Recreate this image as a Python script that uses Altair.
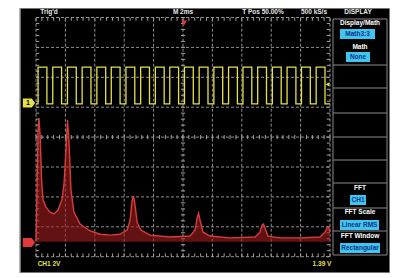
import altair as alt
import pandas as pd
import numpy as np

# ---- screen geometry (pixel readings -> graticule divisions) ----
X0, XDIV = 36.0, 29.4
Y0, YDIV = 137.1, 29.9
def dx(px): return (px - X0) / XDIV
def dy(py): return (Y0 - py) / YDIV

XDOM = [dx(20), dx(390)]
YDOM = [dy(273), dy(8)]

# ---- CH1 square wave (divisions) ----
ch1_low = 1.11
ch1_high = 2.34
ch1_rise = [0.07, 0.57, 1.07, 1.57, 2.07, 2.56, 3.06, 3.56, 4.06, 4.55,
            5.05, 5.55, 6.05, 6.55, 7.04, 7.54, 8.04, 8.54, 9.03, 9.53]
ch1_fall = [0.37, 0.87, 1.37, 1.87, 2.37, 2.86, 3.36, 3.86, 4.36, 4.85,
            5.35, 5.85, 6.35, 6.85, 7.34, 7.84, 8.34, 8.84, 9.33, 9.83]

# ---- FFT trace (divisions) ----
fft_x = [0.00, 0.03, 0.07, 0.10, 0.14, 0.19, 0.24, 0.34, 0.48, 0.61, 0.75, 0.88, 0.95,
         1.02, 1.07, 1.12, 1.19, 1.29, 1.50, 1.84, 2.18, 2.52, 2.86, 3.10, 3.20, 3.27,
         3.32, 3.37, 3.44, 3.57, 3.88, 4.56, 5.24, 5.41, 5.48, 5.53, 5.58, 5.68, 5.92,
         6.60, 7.45, 7.62, 7.69, 7.74, 7.79, 7.89, 8.30, 8.98, 9.66, 9.83, 9.90, 9.95, 10.0]
fft_y = [-3.47, -2.10, 0.24, 0.64, 0.07, -1.43, -2.10, -2.34, -2.51, -2.57, -2.44, -2.10, -1.60,
         -0.43, 0.57, -0.10, -1.77, -2.51, -2.91, -3.14, -3.25, -3.28, -3.25, -3.11, -2.78, -2.11,
         -1.97, -2.28, -2.85, -3.11, -3.28, -3.34, -3.31, -3.11, -2.71, -2.55, -2.78, -3.18, -3.31,
         -3.37, -3.34, -3.18, -2.94, -2.91, -3.05, -3.31, -3.37, -3.37, -3.34, -3.18, -3.05, -3.01, -3.18]
fft_floor = -3.50

# ---- texts ----
top_labels = ["Trig'd", "M 2ms", "T Pos 50.00%", "500 kS/s", "DISPLAY"]
top_label_px = [49, 183, 263, 314, 358]
menu_labels = ["Display/Math", "Math", "FFT", "FFT Scale", "FFT Window"]
menu_label_py = [23, 47, 188, 212, 236]
btn_labels = ["Math3:3", "None", "CH1", "Linear RMS", "Rectangular"]
btn_py = [34, 57, 200, 225, 248]
btn_left = [340, 346, 350, 340, 340]
btn_right = [375, 370, 366, 379, 380]
menu_lines_py = [19, 65, 88, 113, 137, 160, 183, 208, 231, 255]

XS = alt.Scale(domain=XDOM, nice=False, zero=False)
YS = alt.Scale(domain=YDOM, nice=False, zero=False)
def X(f="x"): return alt.X(f"{f}:Q", scale=XS, axis=None)
def Y(f="y"): return alt.Y(f"{f}:Q", scale=YS, axis=None)

# graticule dashed lines
segs = []
for d in range(11):
    segs.append(dict(x=d, x2=d, y=-4, y2=4))
for v in range(-4, 5):
    segs.append(dict(x=0, x2=10, y=v, y2=v))
grid = alt.Chart(pd.DataFrame(segs)).mark_rule(color="#8f8f8f", strokeDash=[3, 2], strokeWidth=1).encode(
    x=X(), x2="x2:Q", y=Y(), y2="y2:Q")

# tick marks
tk = []
tl = 0.11
for d in np.round(np.arange(0, 10.001, 0.2), 2):
    tk.append(dict(x=d, x2=d, y=4, y2=4 - tl))
    tk.append(dict(x=d, x2=d, y=-4, y2=-4 + tl))
    tk.append(dict(x=d, x2=d, y=-0.07, y2=0.07))
for v in np.round(np.arange(-4, 4.001, 0.2), 2):
    tk.append(dict(x=0, x2=tl, y=v, y2=v))
    tk.append(dict(x=10, x2=10 - tl, y=v, y2=v))
    tk.append(dict(x=4.93, x2=5.07, y=v, y2=v))
ticks = alt.Chart(pd.DataFrame(tk)).mark_rule(color="#a0a0a0", strokeWidth=1).encode(
    x=X(), x2="x2:Q", y=Y(), y2="y2:Q")

# square wave
pts = [(0.0, ch1_low)]
for r, f in zip(ch1_rise, ch1_fall):
    pts += [(r, ch1_low), (r, ch1_high), (f, ch1_high), (f, ch1_low)]
pts.append((10.0, ch1_low))
wave_df = pd.DataFrame([dict(i=i, x=p[0], y=p[1]) for i, p in enumerate(pts)])
wave = alt.Chart(wave_df).mark_line(color="#e6e04a", strokeWidth=1.3).encode(
    x=X(), y=Y(), order="i:Q")

# FFT
fft_df = pd.DataFrame(dict(i=range(len(fft_x)), x=fft_x, y=fft_y, y0=fft_floor))
fft_area = alt.Chart(fft_df).mark_area(fill="#a41e1e", fillOpacity=0.6, strokeWidth=0).encode(
    x=X(), y=Y(), y2=alt.Y2("y0:Q"))
fft_line = alt.Chart(fft_df).mark_line(color="#d83c3c", strokeWidth=1.4).encode(
    x=X(), y=Y(), order="i:Q")

# menu frame
ms = [dict(x=dx(333), x2=dx(333), y=dy(19), y2=dy(255)),
      dict(x=dx(387), x2=dx(387), y=dy(19), y2=dy(255))]
for p in menu_lines_py:
    ms.append(dict(x=dx(333), x2=dx(387), y=dy(p), y2=dy(p)))
menu_frame = alt.Chart(pd.DataFrame(ms)).mark_rule(color="#8a8a8a", strokeWidth=1).encode(
    x=X(), x2="x2:Q", y=Y(), y2="y2:Q")

btn_df = pd.DataFrame(dict(
    x=[dx(v) for v in btn_left], x2=[dx(v) for v in btn_right],
    y=[dy(p - 5) for p in btn_py], y2=[dy(p + 5) for p in btn_py],
    xc=[dx((a + b) / 2) for a, b in zip(btn_left, btn_right)],
    yc=[dy(p) for p in btn_py], t=btn_labels))
btns = alt.Chart(btn_df).mark_rect(color="#3ec6ee").encode(x=X(), x2="x2:Q", y=Y(), y2="y2:Q")
btn_txt = alt.Chart(btn_df).mark_text(color="#13308a", font="Liberation Sans", fontSize=6.5,
                                      fontWeight="bold", baseline="middle").encode(
    x=X("xc"), y=Y("yc"), text="t:N")

ml_df = pd.DataFrame(dict(x=[dx(360)] * len(menu_labels), y=[dy(p) for p in menu_label_py], t=menu_labels))
menu_txt = alt.Chart(ml_df).mark_text(color="white", font="Liberation Sans", fontSize=6.5,
                                      fontWeight="bold", baseline="middle").encode(
    x=X(), y=Y(), text="t:N")

tl_df = pd.DataFrame(dict(x=[dx(p) for p in top_label_px], y=[dy(12)] * len(top_labels), t=top_labels))
top_txt = alt.Chart(tl_df).mark_text(color="#e8e8e8", font="Liberation Sans", fontSize=6.5,
                                     fontWeight="bold", baseline="middle").encode(
    x=X(), y=Y(), text="t:N")

bl_df = pd.DataFrame(dict(x=[dx(49), dx(322)], y=[dy(264), dy(264)], t=["CH1 2V", "1.39 V"]))
bot_txt = alt.Chart(bl_df).mark_text(color="#e6e04a", font="Liberation Sans", fontSize=6.5,
                                     fontWeight="bold", baseline="middle").encode(
    x=X(), y=Y(), text="t:N")

pent = "M-1,-0.75L0.45,-0.75L1,0L0.45,0.75L-1,0.75Z"
mk_df = pd.DataFrame(dict(x=[dx(29), dx(29)], y=[dy(103), dy(242.5)], c=["#e6e04a", "#e23a3a"]))
markers = alt.Chart(mk_df).mark_point(shape=pent, filled=True, size=150, opacity=1).encode(
    x=X(), y=Y(), color=alt.Color("c:N", scale=None))
m1 = alt.Chart(pd.DataFrame(dict(x=[dx(28)], y=[dy(103)], t=["1"]))).mark_text(
    color="black", font="Liberation Sans", fontSize=7, fontWeight="bold", baseline="middle").encode(
    x=X(), y=Y(), text="t:N")
trig = alt.Chart(pd.DataFrame(dict(x=[dx(184)], y=[dy(23)]))).mark_point(
    shape="triangle-down", filled=True, size=35, color="#e23a3a", opacity=1).encode(x=X(), y=Y())
lvl = alt.Chart(pd.DataFrame(dict(x=[dx(327.5)], y=[dy(84.5)]))).mark_point(
    shape="triangle-left", filled=True, size=18, color="#e6e04a", opacity=1).encode(x=X(), y=Y())

chart = alt.layer(grid, ticks, fft_area, fft_line, wave, menu_frame, btns, btn_txt, menu_txt,
                  top_txt, bot_txt, markers, m1, trig, lvl).properties(
    width=370, height=265,
    autosize=alt.AutoSizeParams(type="none"),
    padding={"left": 12, "top": 0, "right": 0, "bottom": 0},
    background="white",
).configure_view(fill="black", stroke="#9a9a9a", strokeWidth=1.5)

chart.save("out.html", embed_options={"renderer": "svg", "actions": False})
